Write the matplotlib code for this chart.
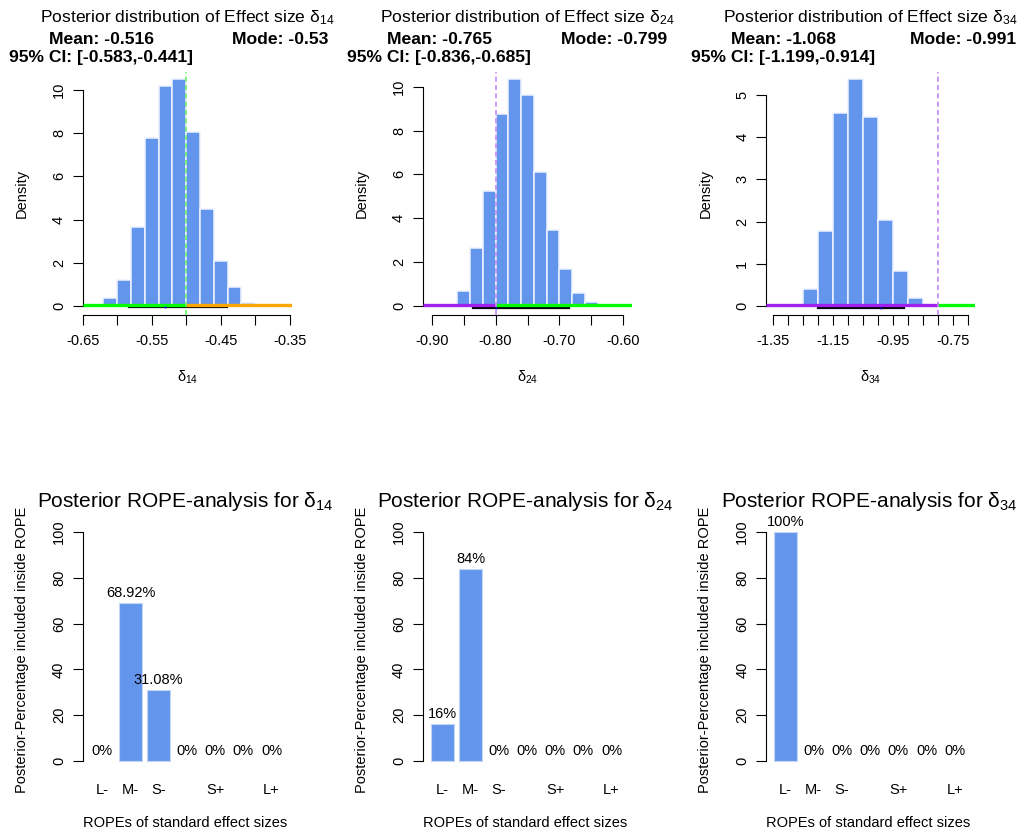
import numpy as np
import matplotlib
matplotlib.use("Agg")
import matplotlib.pyplot as plt
from matplotlib.transforms import offset_copy

plt.rcParams['font.family'] = 'Liberation Sans'
plt.rcParams['mathtext.fontset'] = 'custom'
plt.rcParams['mathtext.rm'] = 'Liberation Sans'
plt.rcParams['mathtext.it'] = 'Liberation Sans:italic'

# posterior histograms (density per bin)
effects = ['14', '24', '34']
bin_start = [-0.62, -0.86, -1.25]
bin_width = [0.02, 0.02, 0.05]
dens_14 = [0.39, 1.2, 3.64, 7.76, 10.2, 10.5, 8.06, 4.49, 2.1, 0.9, 0.12]
dens_24 = [0.68, 2.65, 5.25, 8.77, 10.33, 9.6, 6.09, 3.47, 1.69, 0.58, 0.18]
dens_34 = [0.40, 1.78, 4.57, 5.37, 4.49, 2.04, 0.84, 0.2]
densities = [dens_14, dens_24, dens_34]

means = [-0.516, -0.765, -1.068]
modes = [-0.53, -0.799, -0.991]
ci_low = [-0.583, -0.836, -1.199]
ci_high = [-0.441, -0.685, -0.914]

# ROPE boundary shown in each panel and the colours either side of it
rope_cut = [-0.50, -0.80, -0.80]
rope_left_col = ['#00ff00', '#a020f0', '#a020f0']
rope_right_col = ['#ffa500', '#00ff00', '#00ff00']
cut_col = ['#66f266', '#c48af5', '#c48af5']

xticks_top = [
    [-0.65, -0.60, -0.55, -0.50, -0.45, -0.40, -0.35],
    [-0.90, -0.85, -0.80, -0.75, -0.70, -0.65, -0.60],
    [-1.35, -1.30, -1.25, -1.20, -1.15, -1.10, -1.05, -1.00, -0.95, -0.90,
     -0.85, -0.80, -0.75, -0.70],
]
xlabels_top = [
    ['-0.65', '', '-0.55', '', '-0.45', '', '-0.35'],
    ['-0.90', '', '-0.80', '', '-0.70', '', '-0.60'],
    ['-1.35', '', '', '', '-1.15', '', '', '', '-0.95', '', '', '', '-0.75', ''],
]
yticks_top = [[0, 2, 4, 6, 8, 10], [0, 2, 4, 6, 8, 10], [0, 1, 2, 3, 4, 5]]
xlims_top = [(-0.65, -0.347), (-0.914, -0.587), (-1.372, -0.677)]
ylims_top = [(-0.417, 10.83), (-0.41, 10.67), (-0.213, 5.545)]

# ROPE analysis: percentage of posterior inside each ROPE
rope_cats = ['L-', 'M-', 'S-', '', 'S+', '', 'L+']
rope_14 = [0, 68.92, 31.08, 0, 0, 0, 0]
rope_24 = [16, 84, 0, 0, 0, 0, 0]
rope_34 = [100, 0, 0, 0, 0, 0, 0]
rope_pct = [rope_14, rope_24, rope_34]

# where the text blocks sit (axes fraction)
mean_x = [0.0876, 0.078, 0.0813]
mode_x = [0.944, 0.914, 0.945]

W, H = 1025, 832
fig = plt.figure(figsize=(W / 100, H / 100), dpi=100)
lefts = [82.7, 422.7, 766]
blue = '#6495ed'


def px_axes(left, top, width, height):
    return fig.add_axes([left / W, 1 - (top + height) / H, width / W, height / H])


def delta(sub):
    return r'$\mathregular{\delta_{%s}}$' % sub


for i in range(3):
    ax = px_axes(lefts[i], 72, 209, 243)
    h = densities[i]
    edges = bin_start[i] + bin_width[i] * np.arange(len(h) + 1)
    ax.bar(edges[:-1], h, width=bin_width[i], align='edge', color=blue,
           edgecolor='#eef3fd', linewidth=1.1, zorder=2)
    ax.set_xlim(*xlims_top[i])
    ax.set_ylim(*ylims_top[i])
    xlo, xhi = xlims_top[i]

    up = offset_copy(ax.transData, fig=fig, y=1, units='dots')
    dn = offset_copy(ax.transData, fig=fig, y=-1.5, units='dots')
    ax.plot([ci_low[i], ci_high[i]], [0, 0], color='black', lw=1.6,
            transform=dn, zorder=3)
    ax.plot([xlo, rope_cut[i]], [0, 0], color=rope_left_col[i], lw=2.4,
            transform=up, zorder=4, solid_capstyle='butt')
    ax.plot([rope_cut[i], xhi], [0, 0], color=rope_right_col[i], lw=2.4,
            transform=up, zorder=4, solid_capstyle='butt')
    ax.plot([modes[i]], [0], 's', color='blue', ms=1.3, mew=0, transform=dn, zorder=5)
    ax.axvline(rope_cut[i], color=cut_col[i], ls=(0, (3, 2)), lw=1.2, zorder=6)

    for s in ['top', 'right']:
        ax.spines[s].set_visible(False)
    ax.spines['left'].set_bounds(yticks_top[i][0], yticks_top[i][-1])
    ax.spines['bottom'].set_bounds(xticks_top[i][0], xticks_top[i][-1])
    ax.set_xticks(xticks_top[i])
    ax.set_xticklabels(xlabels_top[i])
    ax.set_yticks(yticks_top[i])
    ax.tick_params(axis='both', labelsize=10.5, length=7, width=0.8)
    ax.tick_params(axis='x', pad=6.5)
    ax.tick_params(axis='y', labelrotation=90, pad=5)
    for lab in ax.get_yticklabels():
        lab.set_va('center')

    ax.text(0.5, 1.222, 'Posterior distribution of Effect size ' + delta(effects[i]),
            transform=ax.transAxes, ha='center', va='center', fontsize=12.6)
    ax.text(mean_x[i], 1.1317, 'Mean: %.3f' % means[i], transform=ax.transAxes,
            ha='center', va='center', fontsize=12.6, fontweight='bold')
    ax.text(mode_x[i], 1.1317, 'Mode: %g' % modes[i], transform=ax.transAxes,
            ha='center', va='center', fontsize=12.6, fontweight='bold')
    ax.text(mean_x[i], 1.0617, '95%% CI: [%.3f,%.3f]' % (ci_low[i], ci_high[i]),
            transform=ax.transAxes, ha='center', va='center', fontsize=12.6,
            fontweight='bold')
    ax.text(-0.29, 0.5, 'Density', rotation=90, transform=ax.transAxes,
            ha='center', va='center', fontsize=10.5)
    ax.text(0.5, -0.255, delta(effects[i]), transform=ax.transAxes,
            ha='center', va='center', fontsize=10.5)

    # ROPE percentages
    bx = px_axes(lefts[i], 523, 209, 247)
    pos = 0.7 + 1.2 * np.arange(len(rope_cats))
    vals = rope_pct[i]
    edge_cols = ['#c3d6f6' if v > 0 else 'none' for v in vals]
    bx.bar(pos, vals, width=1.0, color=blue, edgecolor=edge_cols, linewidth=0.8)
    for p, v in zip(pos, vals):
        bx.annotate('%g%%' % v, (p, v), xytext=(0, 2), textcoords='offset points',
                    ha='center', va='bottom', fontsize=10.5)
    bx.set_xlim(-0.134, 8.76)
    bx.set_ylim(-4, 104)
    for s in ['top', 'right', 'bottom']:
        bx.spines[s].set_visible(False)
    bx.spines['left'].set_bounds(0, 100)
    bx.set_yticks([0, 20, 40, 60, 80, 100])
    bx.set_xticks(pos)
    bx.set_xticklabels(rope_cats)
    bx.tick_params(axis='both', labelsize=10.5, width=0.8)
    bx.tick_params(axis='x', length=0, pad=9)
    bx.tick_params(axis='y', length=7, labelrotation=90, pad=5)
    for lab in bx.get_yticklabels():
        lab.set_va('center')

    bx.text(0.493, 1.086, 'Posterior ROPE-analysis for ' + delta(effects[i]),
            transform=bx.transAxes, ha='center', va='center', fontsize=15)
    bx.text(-0.292, 0.486, 'Posterior-Percentage included inside ROPE',
            rotation=90, transform=bx.transAxes, ha='center', va='center',
            fontsize=10.5)
    bx.text(0.49, -0.215, 'ROPEs of standard effect sizes', transform=bx.transAxes,
            ha='center', va='center', fontsize=10.5)

fig.savefig('out.png', dpi=100)
